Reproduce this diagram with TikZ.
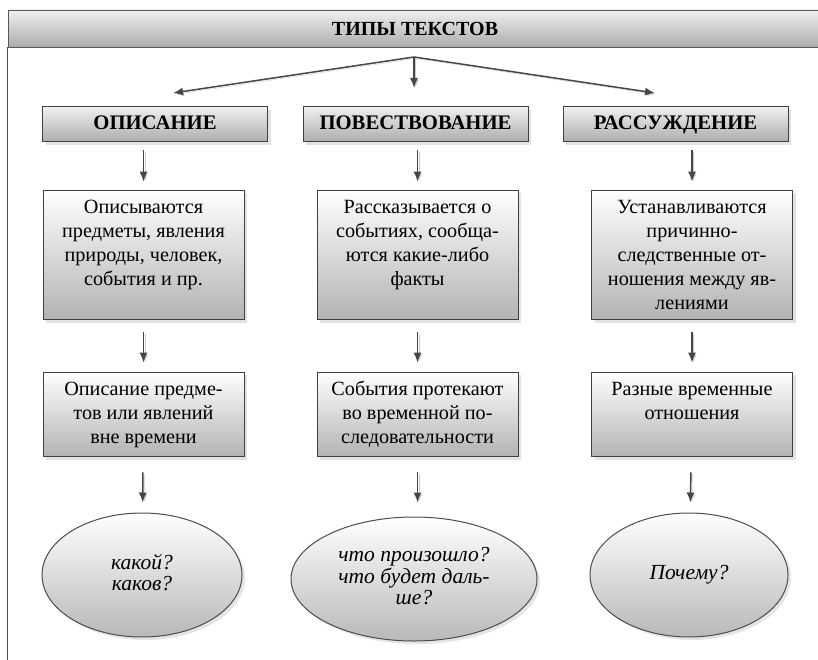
\documentclass[tikz,border=0pt]{standalone}
\usepackage{fontspec}
\setmainfont{Liberation Serif}
\usetikzlibrary{shapes.geometric,shadows,arrows.meta}

\tikzset{
  head/.style={rectangle, draw=gray!70!black, line width=0.8pt, top color=gray!12, bottom color=gray!65,
    minimum width=814pt, minimum height=37pt, inner sep=0pt, font=\fontsize{20}{24}\selectfont\bfseries},
  kind/.style={rectangle, draw=black!75, line width=1pt, top color=gray!12, bottom color=gray!65,
    minimum width=225pt, minimum height=35pt, inner sep=0pt, text height=14pt, text depth=4pt,
    drop shadow={shadow xshift=3pt, shadow yshift=-3pt, fill=gray!45},
    font=\fontsize{20.7}{24}\selectfont\bfseries},
  info/.style={rectangle, draw=black!75, line width=1pt, top color=white, bottom color=gray!60,
    minimum width=201pt, inner xsep=0pt, inner ysep=7pt,
    drop shadow={shadow xshift=3pt, shadow yshift=-3pt, fill=gray!45},
    font=\fontsize{20.2}{24}\selectfont},
  ask/.style={ellipse, draw=black!70, line width=1pt, top color=white, bottom color=gray!55,
    minimum width=200pt, minimum height=124pt, inner sep=0pt,
    drop shadow={shadow xshift=3pt, shadow yshift=-3pt, fill=gray!40},
    font=\fontsize{21.5}{21}\selectfont\itshape},
  arr/.style={-{Latex[length=10pt,width=8pt]}, draw=gray!55!black, line width=1.5pt,
    preaction={draw=gray!40, transform canvas={shift={(1.5pt,-1.5pt)}}}}
}

\begin{document}
\begin{tikzpicture}[x=1pt, y=-1pt]
      \useasboundingbox (0, 0) rectangle (818, 660);

      \node (title) [head] at (415, 28.5) {ТИПЫ ТЕКСТОВ};
      \draw[gray!60!black, line width=1.2pt] (title.south west) -- ++(0, 613);

      \node (descr) [kind] at (155, 124.5) {ОПИСАНИЕ};
      \node (narr) [kind] at (415.5, 124.5) {ПОВЕСТВОВАНИЕ};
      \node (reason) [kind] at (675.5, 124.5) {РАССУЖДЕНИЕ};

      \node (descrwhat) [info, text depth=99pt] at (143.5, 255) {
        \begin{tabular}[t]{c}
          Описываются \\
          предметы, явления \\
          природы, человек, \\
          события и пр.
        \end{tabular}
      };
      \node (narrwhat) [info, text depth=99pt] at (417.5, 255) {
        \begin{tabular}[t]{c}
          Рассказывается о \\
          событиях, сообща- \\
          ются какие-либо \\
          факты
        \end{tabular}
      };
      \node (reasonwhat) [info, text depth=99pt] at (692, 255) {
        \begin{tabular}[t]{c}
          Устанавливаются \\
          причинно- \\
          следственные от- \\
          ношения между яв- \\
          лениями
        \end{tabular}
      };

      \node (descrtime) [info, text depth=54pt] at (143.5, 414.5) {
        \begin{tabular}[t]{c}
          Описание предме- \\
          тов или явлений \\
          вне времени
        \end{tabular}
      };
      \node (narrtime) [info, text depth=54pt] at (417.5, 414.5) {
        \begin{tabular}[t]{c}
          События протекают \\
          во временной по- \\
          следовательности
        \end{tabular}
      };
      \node (reasontime) [info, text depth=54pt] at (692, 414.5) {
        \begin{tabular}[t]{c}
          Разные временные \\
          отношения
        \end{tabular}
      };

      \node (descrq) [ask] at (142, 575) {
        \begin{tabular}{c}
          какой? \\
          каков?
        \end{tabular}
      };
      \node (narrq) [ask, minimum width=246pt] at (414, 579) {
        \begin{tabular}{c}
          что произошло? \\
          что будет даль- \\
          ше?
        \end{tabular}
      };
      \node (reasonq) [ask, minimum width=198pt] at (689, 575) {Почему?};

      \coordinate (fork) at (414, 57);
      \coordinate (forkleft) at (173, 93);
      \coordinate (forkmid) at (414, 88);
      \coordinate (forkright) at (655, 93);

      \draw[arr] (fork) to (forkleft);
      \draw[arr] (fork) to (forkmid);
      \draw[arr] (fork) to (forkright);

      \draw[arr, shorten <=8pt, shorten >=8pt] (descrwhat.north |- descr.south) to (descrwhat.north);
      \draw[arr, shorten <=8pt, shorten >=8pt] (narrwhat.north |- narr.south) to (narrwhat.north);
      \draw[arr, shorten <=8pt, shorten >=8pt] (reasonwhat.north |- reason.south) to (reasonwhat.north);

      \draw[arr, shorten <=12pt, shorten >=9pt] (descrwhat) to (descrtime);
      \draw[arr, shorten <=12pt, shorten >=9pt] (narrwhat) to (narrtime);
      \draw[arr, shorten <=12pt, shorten >=9pt] (reasonwhat) to (reasontime);

      \draw[arr, shorten <=15pt, shorten >=10pt] (descrtime) to (descrq);
      \draw[arr, shorten <=15pt, shorten >=14pt] (narrtime.south) to (narrtime.south |- narrq.north);
      \draw[arr, shorten <=15pt, shorten >=10pt] (reasontime) to (reasonq);
    \end{tikzpicture}
\end{document}
